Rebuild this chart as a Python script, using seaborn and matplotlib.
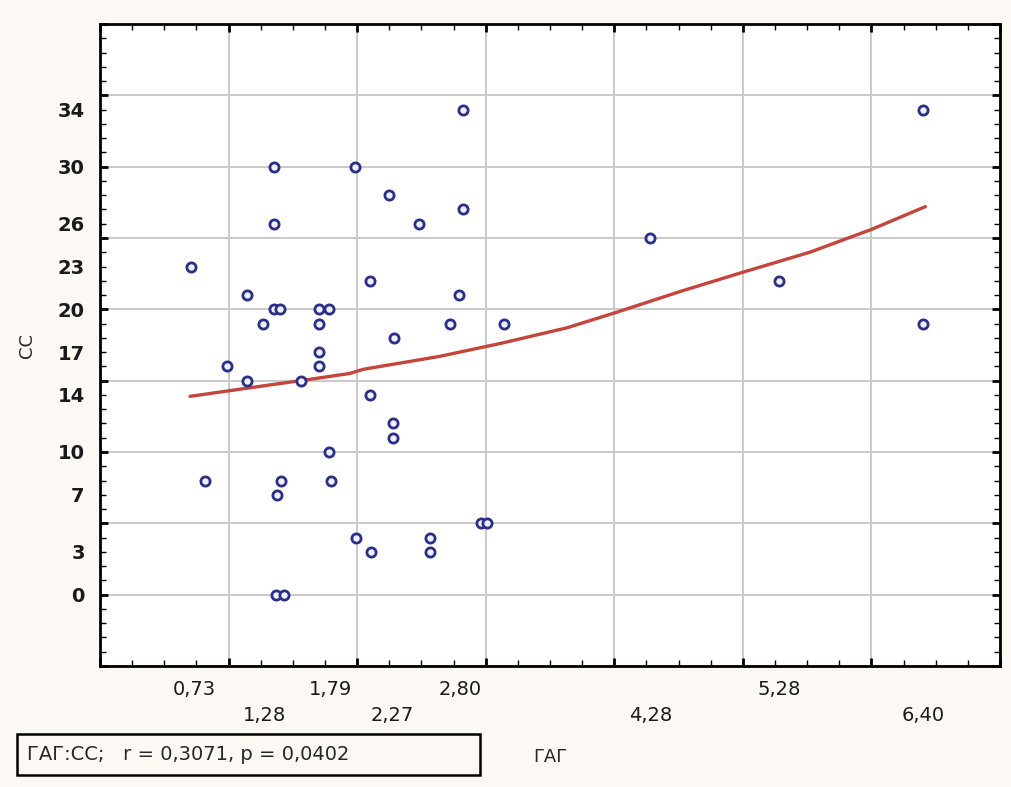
import numpy as np
import matplotlib
matplotlib.use("Agg")
import matplotlib.pyplot as plt
from matplotlib.patches import Rectangle
import seaborn as sns

# data (ГАГ vs CC)
gag = [2.82, 1.35, 1.98, 2.25, 2.82, 1.35, 2.48, 0.71, 2.10, 1.14,
       2.79, 1.35, 1.40, 1.70, 1.78, 1.27, 1.70, 2.72, 3.14, 2.29,
       1.70, 1.70, 0.99, 1.14, 1.56, 2.10, 2.28, 2.28, 1.78, 0.82,
       1.41, 1.38, 1.80, 1.99, 2.11, 2.57, 2.57, 2.96, 3.01, 1.37,
       1.43, 6.40, 4.28, 5.28, 6.40]
cc = [34, 30, 30, 28, 27, 26, 26, 23, 22, 21,
      21, 20, 20, 20, 20, 19, 19, 19, 19, 18,
      17, 16, 16, 15, 15, 14, 12, 11, 10, 8,
      8, 7, 8, 4, 3, 4, 3, 5, 5, 0,
      0, 34, 25, 22, 19]

# fitted curve as drawn
fit_x = [0.70, 1.01, 1.32, 1.56, 1.94, 2.05, 2.64, 3.11, 3.63, 4.02, 4.53, 5.00, 5.52, 6.00, 6.42]
fit_y = [13.9, 14.3, 14.7, 15.0, 15.5, 15.8, 16.7, 17.6, 18.7, 19.8, 21.3, 22.6, 24.0, 25.6, 27.2]

x_labels = ["0,73", "1,28", "1,79", "2,27", "2,80", "4,28", "5,28", "6,40"]
x_label_vals = [0.73, 1.28, 1.79, 2.27, 2.80, 4.28, 5.28, 6.40]
y_label_vals = [0, 3, 7, 10, 14, 17, 20, 23, 26, 30, 34]

sns.set_style("white")
plt.rcParams["font.family"] = ["DejaVu Sans"]

fig = plt.figure(figsize=(10.12, 7.87), dpi=100, facecolor="#fcf9f4")
ax = fig.add_axes([100 / 1012, 1 - 666 / 787, 900 / 1012, 642 / 787])
ax.set_facecolor("white")

ax.set_xlim(0, 7)
ax.set_ylim(-5, 40)

# grid on major ticks
ax.set_xticks(np.arange(0, 8, 1))
ax.set_yticks(np.arange(-5, 41, 5))
ax.set_xticks(np.arange(0, 7.01, 0.25), minor=True)
ax.set_yticks(np.arange(-5, 41, 1), minor=True)
ax.set_xticklabels([])
ax.set_yticklabels([])
ax.grid(True, which="major", color="#c9c9c9", lw=1.4)
ax.tick_params(which="major", direction="in", length=6, width=2,
               top=True, right=True, bottom=True, left=True, color="black")
ax.tick_params(which="minor", direction="in", length=4, width=1,
               top=True, right=True, bottom=True, left=True, color="black")
for s in ax.spines.values():
    s.set_linewidth(2)
    s.set_color("black")

sns.lineplot(x=fit_x, y=fit_y, ax=ax, color="#c4453c", lw=2.4, sort=False, zorder=3)
sns.scatterplot(x=gag, y=cc, ax=ax, marker="o", s=44, facecolor="#eef0ff",
                edgecolor="#2b2f86", linewidth=2.0, zorder=4)

# labels at data values, staggered on two rows
sec_x = ax.secondary_xaxis("bottom")
sec_x.set_xticks(x_label_vals,
                 [lab if i % 2 == 0 else "\n" + lab for i, lab in enumerate(x_labels)])
sec_x.tick_params(length=0, pad=10, labelsize=14, labelcolor="#1a1a1a")
for t in sec_x.get_xticklabels():
    t.set_linespacing(1.5)
sec_x.spines["bottom"].set_visible(False)

sec_y = ax.secondary_yaxis("left")
sec_y.set_yticks(y_label_vals, [str(v) for v in y_label_vals])
sec_y.tick_params(length=0, pad=11, labelsize=14, labelcolor="#1a1a1a")
for t in sec_y.get_yticklabels():
    t.set_fontweight("bold")
sec_y.spines["left"].set_visible(False)

fig.text(550 / 1012, 1 - 757 / 787, "ГАГ", ha="center", va="center", fontsize=13)
fig.text(27 / 1012, 1 - 345 / 787, "CC", ha="center", va="center", rotation=90, fontsize=13)

fig.patches.append(Rectangle((17 / 1012, 1 - 775 / 787), 463 / 1012, 41 / 787,
                             transform=fig.transFigure, fill=False, ec="black", lw=1.8))
fig.text(27 / 1012, 1 - 755 / 787, "ГАГ:CC;   r = 0,3071, p = 0,0402",
         ha="left", va="center", fontsize=14)

fig.savefig("out.png", dpi=100, facecolor=fig.get_facecolor())
